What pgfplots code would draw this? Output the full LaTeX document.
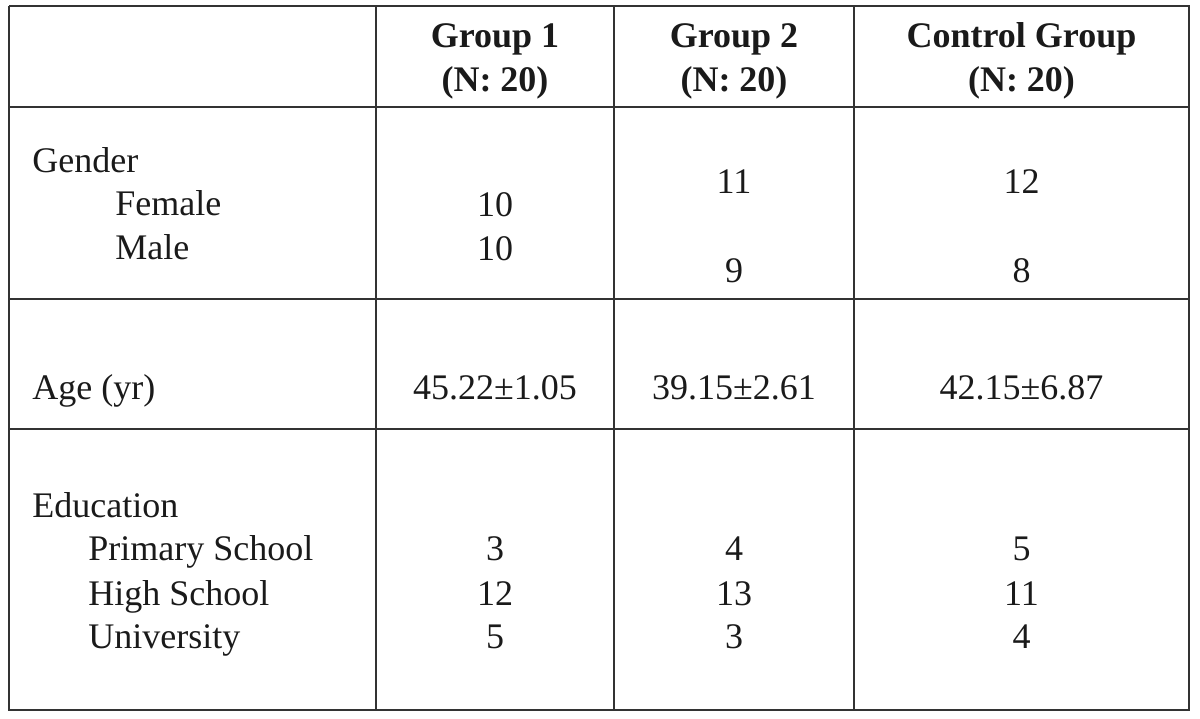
\documentclass[border=0pt]{standalone}
\usepackage{pgfplots}
\usepackage{pgfplotstable}
\pgfplotsset{compat=1.18}
\usepackage{fontspec}
\setmainfont{Liberation Serif}
\definecolor{rule}{HTML}{333333}
\definecolor{ink}{HTML}{1A1A1A}

% header cells (bold, centred)
\pgfplotstableread{
x y label
495 47 {Group 1}
495 91 {(N: 20)}
734 47 {Group 2}
734 91 {(N: 20)}
1021.5 47 {Control Group}
1021.5 91 {(N: 20)}
}\headtab

% row labels (left aligned)
\pgfplotstableread{
x y label
32 172 {Gender}
115 215 {Female}
115 259 {Male}
32 399 {Age (yr)}
32 517 {Education}
88 560 {Primary School}
88 605 {High School}
88 648 {University}
}\rowtab

% body values (centred)
\pgfplotstableread{
x y label
495 216 10
495 260 10
734 193 11
734 282 9
1021.5 193 12
1021.5 282 8
495 399 45.22±1.05
734 399 39.15±2.61
1021.5 399 42.15±6.87
495 560 3
495 605 12
495 648 5
734 560 4
734 605 13
734 648 3
1021.5 560 5
1021.5 605 11
1021.5 648 4
}\valtab

\begin{document}
\begin{tikzpicture}
\begin{axis}[
  width=600pt, height=359pt, scale only axis,
  xmin=0, xmax=1200, ymin=0, ymax=718,
  y dir=reverse,
  axis lines=none,
  clip=false,
]
\path (axis cs:0,0) rectangle (axis cs:1200,718);
% table rules
\addplot[rule, line width=1pt] coordinates {(9,6) (1189,6) (1189,710) (9,710) (9,6)};
\addplot[rule, line width=1pt] coordinates {(9,107) (1189,107)};
\addplot[rule, line width=1pt] coordinates {(9,299) (1189,299)};
\addplot[rule, line width=1pt] coordinates {(9,429) (1189,429)};
\addplot[rule, line width=1pt] coordinates {(375.7,6) (375.7,710)};
\addplot[rule, line width=1pt] coordinates {(614,6) (614,710)};
\addplot[rule, line width=1pt] coordinates {(854,6) (854,710)};
% text
\addplot[only marks, mark=none, nodes near coords, point meta=explicit symbolic,
  nodes near coords align={anchor=base},
  every node near coord/.style={anchor=base, inner sep=0pt, text=ink, font=\fontsize{18}{22}\selectfont\bfseries}]
  table[x=x, y=y, meta=label] {\headtab};
\addplot[only marks, mark=none, nodes near coords, point meta=explicit symbolic,
  nodes near coords align={anchor=base west},
  every node near coord/.style={anchor=base west, inner sep=0pt, text=ink, font=\fontsize{18}{22}\selectfont}]
  table[x=x, y=y, meta=label] {\rowtab};
\addplot[only marks, mark=none, nodes near coords, point meta=explicit symbolic,
  nodes near coords align={anchor=base},
  every node near coord/.style={anchor=base, inner sep=0pt, text=ink, font=\fontsize{18}{22}\selectfont}]
  table[x=x, y=y, meta=label] {\valtab};
\end{axis}
\end{tikzpicture}
\end{document}
